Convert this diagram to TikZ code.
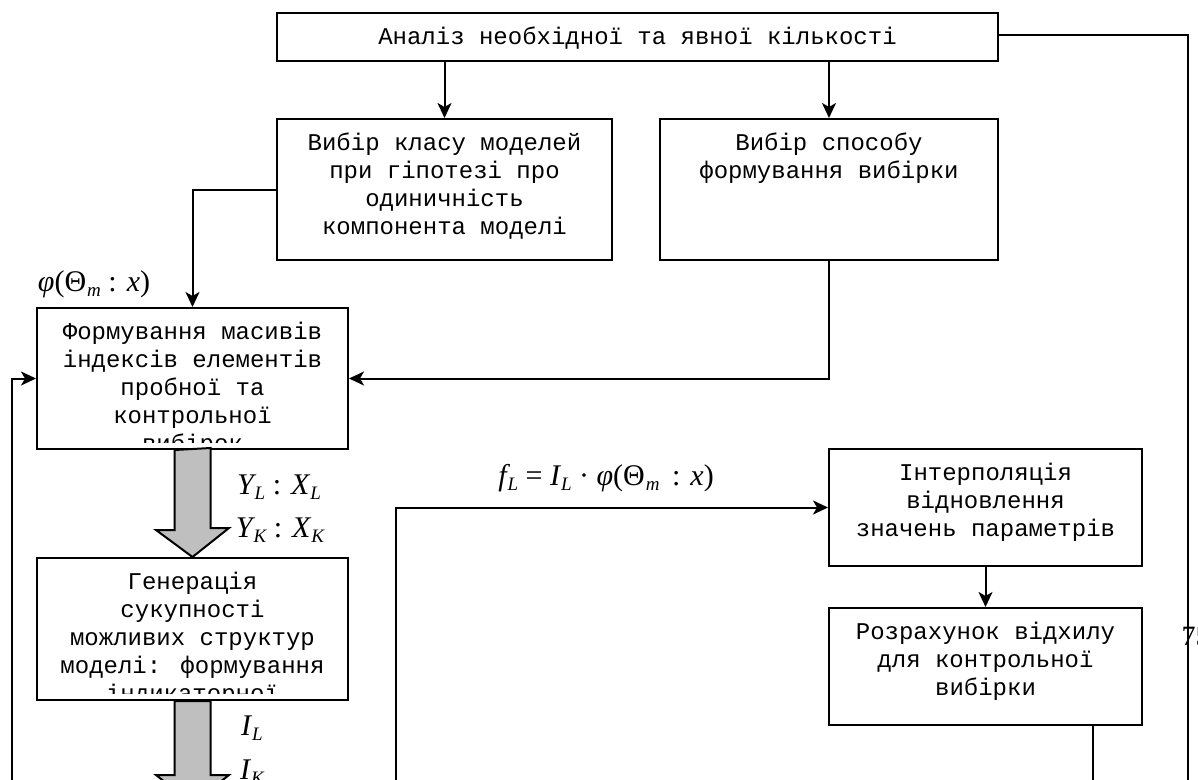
\documentclass[tikz,border=0pt]{standalone}
\usepackage{fontspec}
\newfontfamily\monofam{Liberation Mono}
\newfontfamily\serfam{Liberation Serif}
\newcommand\blockfont{\monofam\fontsize{24}{28}\selectfont}
\newcommand\lblfont{\serfam\fontsize{30}{34}\selectfont}
\newcommand\numfont{\serfam\fontsize{28}{30}\selectfont}
\newcommand\vr[1]{{\itshape #1}}
\newcommand\sbs[1]{\hspace{1pt}\raisebox{-5pt}{\fontsize{19}{21}\selectfont\itshape #1}}
\usetikzlibrary{arrows.meta}

\begin{document}
\begin{tikzpicture}[x=1pt, y=-1pt,
    every node/.style={font=\lblfont},
    block/.style={draw, rectangle, line width=2pt, inner sep=0pt, anchor=north west},
    blocktext/.style={path picture={
        \clip ([yshift=7pt]path picture bounding box.south west) rectangle (path picture bounding box.north east);
        \node[anchor=north, align=center, inner sep=0pt, minimum width=0pt, minimum height=0pt, draw=none, font=\blockfont] at ([yshift=-11pt]path picture bounding box.north) {\strut #1};}},
    link/.style={line width=2pt, -{Stealth[length=15pt, width=14pt, inset=4pt]}},
    wire/.style={line width=2pt},
    bigarrow/.style={draw, line width=2pt, fill=gray!50, line join=miter}]
    \useasboundingbox (0,0) rectangle (1198,779);

    \node[block, minimum width=721pt, minimum height=48pt, blocktext={Аналіз необхідної та явної кількості}] (analiz) at (276,12) {};
    \node[block, minimum width=335pt, minimum height=141pt, blocktext={Вибір класу моделей\\при гіпотезі про\\одиничність\\компонента моделі}] (klas) at (276,118) {};
    \node[block, minimum width=338pt, minimum height=141pt, blocktext={Вибір способу\\формування вибірки}] (sposib) at (659,118) {};
    \node[block, minimum width=311pt, minimum height=141pt, blocktext={Формування масивів\\індексів елементів\\пробної та\\контрольної\\вибірок}] (form) at (36,307) {};
    \node[block, minimum width=311pt, minimum height=142pt, blocktext={Генерація\\сукупності\\можливих структур\\моделі: формування\\індикаторної}] (gener) at (36,557) {};
    \node[block, minimum width=313pt, minimum height=117pt, blocktext={Інтерполяція\\відновлення\\значень параметрів}] (interp) at (828,448) {};
    \node[block, minimum width=313pt, minimum height=117pt, blocktext={Розрахунок відхилу\\для контрольної\\вибірки}] (rozrah) at (828,607) {};

    \coordinate (loopL) at (11.5,785);
    \coordinate (loopF) at (396,785);
    \coordinate (loopR) at (1093,785);
    \coordinate (edgeR) at (1188,785);

    \draw[link] (analiz.south -| klas.north) -- (klas.north);
    \draw[link] (analiz.south -| sposib.north) -- (sposib.north);
    \draw[wire] ([yshift=2pt]analiz.east) -| (edgeR);
    \draw[link] (klas.west) -| (form.north);
    \draw[link] (sposib.south) |- (form.east);
    \draw[link] (loopL) |- (form.west);
    \draw[link] (loopF) |- (interp.west);
    \draw[link] (interp.south) -- (rozrah.north);
    \draw[wire] (rozrah.south -| loopR) -- (loopR);

    \draw[bigarrow] ([xshift=-18pt]form.south) -- ++(0,80) -- ++(-18.5,0) -- (gener.north) -- ++(36.5,-29) -- ++(-18.5,0) -- ++(0,-80) -- cycle;
    \draw[bigarrow] ([xshift=-18pt]gener.south) -- ++(0,74) -- ++(-18.5,0) -- ++(36.5,29) -- ++(36.5,-29) -- ++(-18.5,0) -- ++(0,-74) -- cycle;

    \node (phi) at (94,284) {\vr{φ}(Θ\sbs{m} : \vr{x})};
    \node (yl) at (279,487) {\vr{Y}\sbs{L} : \vr{X}\sbs{L}};
    \node (yk) at (280,530) {\vr{Y}\sbs{K} : \vr{X}\sbs{K}};
    \node (il) at (252,728) {\vr{I}\sbs{L}};
    \node (ik) at (252,772) {\vr{I}\sbs{K}};
    \node (fl) at (606,478) {\vr{f}\sbs{L} = \vr{I}\sbs{L} · \vr{φ}(Θ\sbs{m}\, : \vr{x})};
    \node[anchor=west, font=\numfont] (pagenum) at (1178,636) {75};
\end{tikzpicture}
\end{document}
